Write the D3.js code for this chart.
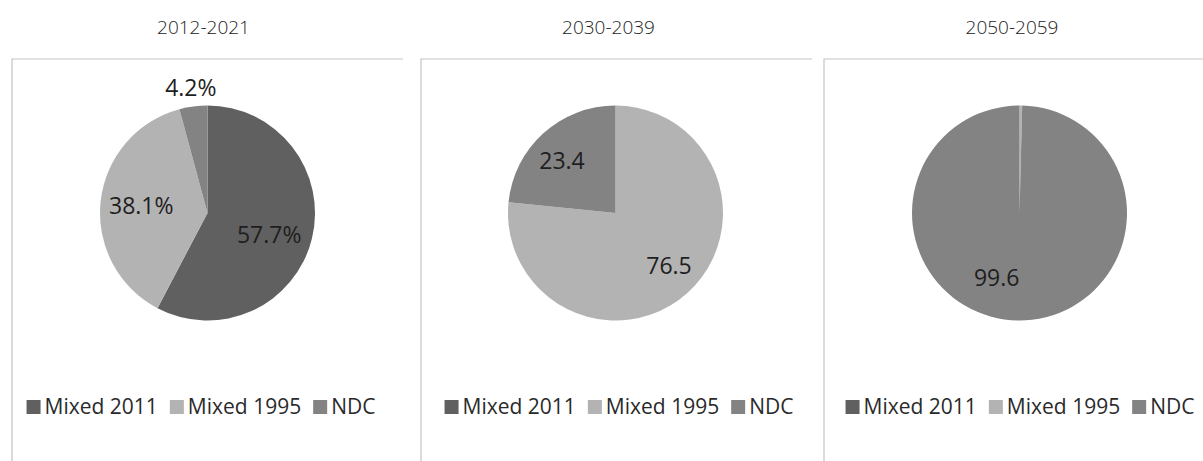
<!DOCTYPE html>
<html>
<head>
<meta charset="utf-8">
<script src="https://cdn.jsdelivr.net/npm/d3@7"></script>
<style>
  html, body { margin: 0; padding: 0; background: #fff; }
  svg { display: block; font-family: "Open Sans", "Noto Sans", sans-serif; }
</style>
</head>
<body>
<svg id="chart" width="1203" height="461"></svg>
<script>
// Share of pensions by calculation method, per decade
const periods = ["2012-2021", "2030-2039", "2050-2059"];
const seriesNames = ["Mixed 2011", "Mixed 1995", "NDC"];
const mixed2011 = [57.7, 0, 0];
const mixed1995 = [38.1, 76.5, 0.4];
const ndc = [4.2, 23.4, 99.6];
const valueSuffix = ["%", "", ""];

// Layout
const W = 1203, H = 461;
const colors = ["#606060", "#b3b3b3", "#838383"];
const panelLeft = [12, 421, 824];
const panelRight = [403, 812, 1215];
const panelTop = 59;
const pieCx = [207.5, 615.5, 1019.5];
const pieCy = 213;
const pieR = 107.5;
const titleX = [203.5, 608.5, 1012];
const titleY = 34;
const legendCx = [201, 619, 1020];
const legendY = 414;
const insideLabelFactor = [0.62, 0.70, 0.64];
const outsideLabelFactor = 1.18;
const labelShift = [
  [[-3, 6], [0, 0], [0, 0]],
  [[0, 0], [3, -3], [-3, 3]],
  [[0, 0], [0, 0], [-22, -4]]
];

const svg = d3.select("#chart");

const pie = d3.pie().sort(null).value(d => d.value);
const arc = d3.arc().innerRadius(0).outerRadius(pieR);
const color = d3.scaleOrdinal().domain(seriesNames).range(colors);

periods.forEach((period, p) => {
  const values = [mixed2011[p], mixed1995[p], ndc[p]];
  const data = seriesNames.map((name, i) => ({ name, value: values[i], idx: i }));
  const g = svg.append("g");

  // panel frame: top and left edges
  g.append("path")
    .attr("d", `M${panelLeft[p]},${H + 2}V${panelTop}H${panelRight[p]}`)
    .attr("fill", "none")
    .attr("stroke", "#c4c4c4")
    .attr("stroke-width", 1.2);

  // title
  g.append("text")
    .attr("x", titleX[p])
    .attr("y", titleY)
    .attr("text-anchor", "middle")
    .attr("font-size", 19)
    .attr("font-weight", 300)
    .attr("fill", "#222")
    .text(period);

  // slices
  const arcs = pie(data);
  const pieG = g.append("g").attr("transform", `translate(${pieCx[p]},${pieCy})`);
  pieG.selectAll("path.slice")
    .data(arcs.filter(d => d.data.value > 0))
    .join("path")
    .attr("class", "slice")
    .attr("d", arc)
    .attr("fill", d => color(d.data.name));

  // value labels
  arcs.filter(d => d.data.value >= 1).forEach(d => {
    const share = (d.endAngle - d.startAngle) / (2 * Math.PI);
    const rr = share < 0.05 ? pieR * outsideLabelFactor : pieR * insideLabelFactor[p];
    const [x, y] = d3.arc().innerRadius(rr).outerRadius(rr).centroid(d);
    const [sx, sy] = labelShift[p][d.data.idx];
    pieG.append("text")
      .attr("x", x + sx)
      .attr("y", y + sy)
      .attr("dy", "0.36em")
      .attr("text-anchor", "middle")
      .attr("font-size", 23)
      .attr("fill", "#1e1e1e")
      .text(d3.format(".1f")(d.data.value) + valueSuffix[p]);
  });

  // legend
  const leg = g.append("g");
  const items = seriesNames.map(name => {
    const it = leg.append("g");
    it.append("rect")
      .attr("width", 14).attr("height", 14)
      .attr("y", legendY - 14)
      .attr("fill", color(name));
    const t = it.append("text")
      .attr("x", 18)
      .attr("y", legendY)
      .attr("font-size", 21)
      .attr("fill", "#2a2a2a")
      .text(name);
    return { it, w: 18 + t.node().getComputedTextLength() };
  });
  const gap = 12;
  const total = d3.sum(items, d => d.w) + gap * (items.length - 1);
  let x0 = legendCx[p] - total / 2;
  items.forEach(d => {
    d.it.attr("transform", `translate(${x0},0)`);
    x0 += d.w + gap;
  });
});
</script>
</body>
</html>
